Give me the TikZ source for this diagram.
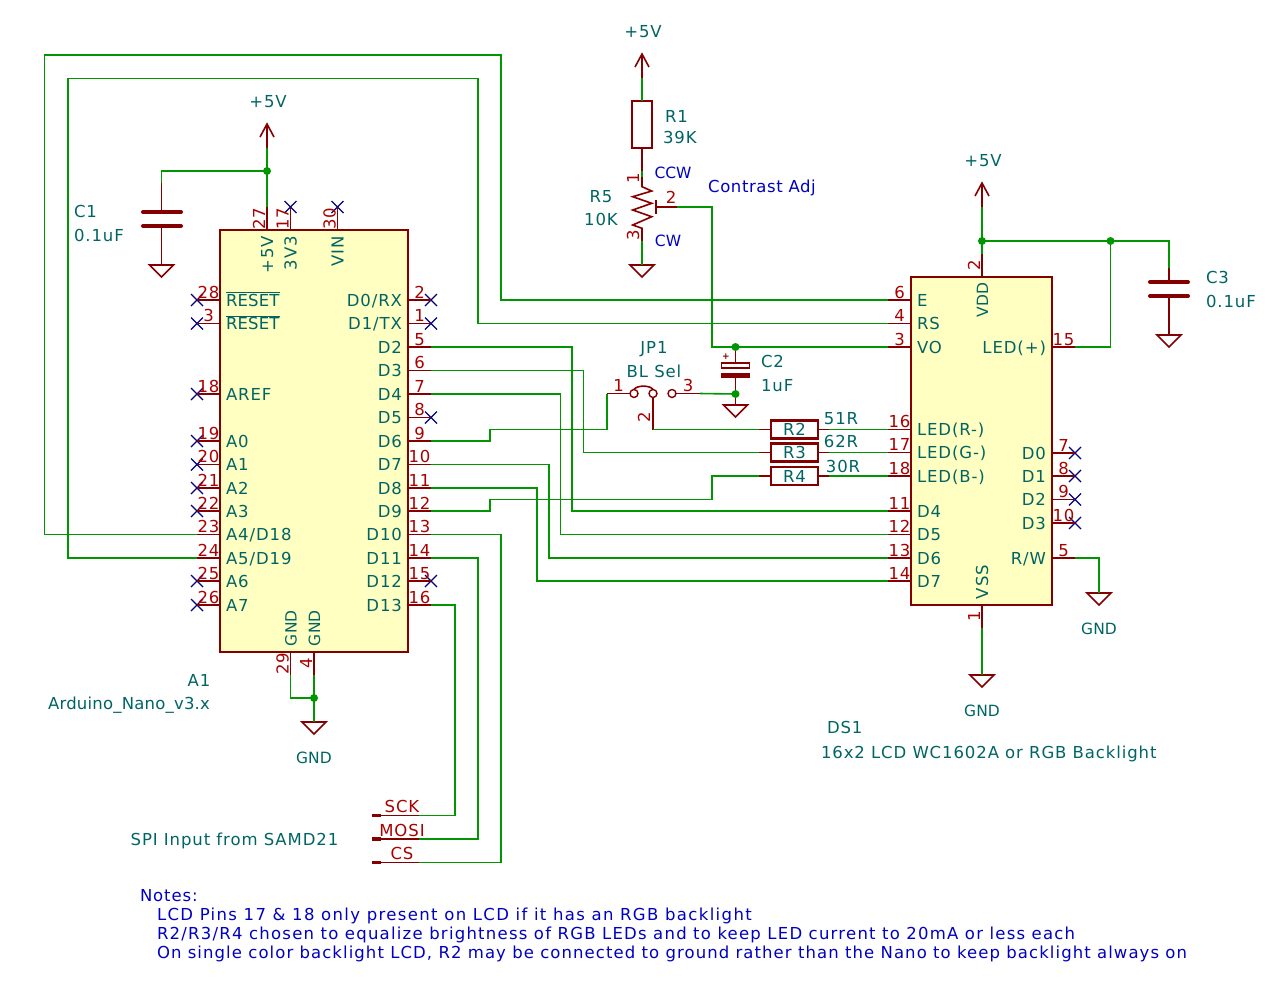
\documentclass[tikz,border=0pt]{standalone}
\usepackage{fontspec}
\setmainfont[LetterSpace=5.5]{DejaVu Sans}
\usetikzlibrary{shapes.misc}
\definecolor{wirec}{RGB}{0,150,0}
\definecolor{pinc}{RGB}{132,0,0}
\definecolor{numc}{RGB}{169,0,0}
\definecolor{textc}{RGB}{0,100,100}
\definecolor{ncc}{RGB}{0,0,132}
\definecolor{notec}{RGB}{0,0,194}
\definecolor{bodyc}{RGB}{255,255,194}

\begin{document}
\begin{tikzpicture}[x=1pt, y=-1pt,
    every node/.style={inner sep=0pt, outer sep=0pt, text height=12pt, text depth=0pt, font=\fontsize{16.5}{16.5}\selectfont},
    wire/.style={draw=wirec, line width=1.6pt},
    pinline/.style={draw=pinc, line width=1.6pt},
    sym/.style={draw=pinc, line width=1.6pt},
    plate/.style={draw=pinc, line width=4pt, line cap=round},
    body/.style={draw=pinc, fill=bodyc, line width=2.5pt, anchor=north west},
    res/.style={draw=pinc, line width=2.5pt, minimum width=47pt, minimum height=18pt, text=textc},
    pinnum/.style={text=numc, inner ysep=2pt},
    pinname/.style={text=textc, inner xsep=6pt},
    lbl/.style={text=textc},
    note/.style={text=notec, anchor=west},
    tight/.style={font=\fontsize{15.5}{15.5}\selectfont\addfontfeature{LetterSpace=0}},
    barred/.style={font=\fontsize{16.5}{16.5}\selectfont\addfontfeature{LetterSpace=1}},
    dot/.style={circle, fill=wirec, minimum size=8pt, text height=0pt},
    nc/.style={cross out, draw=ncc, line width=1.3pt, minimum size=12pt, text height=0pt}
    ]
    \useasboundingbox (0,0) rectangle (1280,986);

    % Nano and LCD bodies
    \node at (220,230) [body, minimum width=188pt, minimum height=422pt] (Nano) {};
    \node at (911,277) [body, minimum width=141pt, minimum height=328pt] (LCD) {};

    % Pin ends, Nano
    \coordinate (a5V) at (267,207);
    \coordinate (a4) at (314,675);
    \coordinate (a29) at (290.5,675);
    \coordinate (aA4) at (197,534.5);
    \coordinate (aA5) at (197,558);
    \coordinate (aD2) at (431,347);
    \coordinate (aD3) at (431,370.5);
    \coordinate (aD4) at (431,394);
    \coordinate (aD6) at (431,441);
    \coordinate (aD7) at (431,464.5);
    \coordinate (aD8) at (431,488);
    \coordinate (aD9) at (431,511);
    \coordinate (aD10) at (431,534.5);
    \coordinate (aD11) at (431,558);
    \coordinate (aD13) at (431,605);

    % Pin ends, LCD
    \coordinate (dE) at (888,300);
    \coordinate (dRS) at (888,323.5);
    \coordinate (dVO) at (888,347);
    \coordinate (dR) at (888,429.5);
    \coordinate (dG) at (888,452.5);
    \coordinate (dB) at (888,476);
    \coordinate (dD4) at (888,511);
    \coordinate (dD5) at (888,534.5);
    \coordinate (dD6) at (888,558);
    \coordinate (dD7) at (888,581);
    \coordinate (dLED) at (1075,347);
    \coordinate (dRW) at (1075,558);
    \coordinate (dVDD) at (982,254);
    \coordinate (dVSS) at (982,628);

    % Unconnected pins
    \node at (290.5,207) [nc] (x17) {};
    \node at (337.5,207) [nc] (x30) {};
    \node at (197,300) [nc] (x28) {};
    \node at (197,323.5) [nc] (x3) {};
    \node at (197,394) [nc] (xAREF) {};
    \node at (197,441) [nc] (xA0) {};
    \node at (197,464.5) [nc] (xA1) {};
    \node at (197,488) [nc] (xA2) {};
    \node at (197,511) [nc] (xA3) {};
    \node at (197,581) [nc] (xA6) {};
    \node at (197,605) [nc] (xA7) {};
    \node at (431,300) [nc] (xD0) {};
    \node at (431,323.5) [nc] (xD1) {};
    \node at (431,417.5) [nc] (xD5) {};
    \node at (431,581) [nc] (xD12) {};
    \node at (1075,453) [nc] (yD0) {};
    \node at (1075,476) [nc] (yD1) {};
    \node at (1075,499.5) [nc] (yD2) {};
    \node at (1075,523) [nc] (yD3) {};

    % Nano pins, top and bottom
    \draw[pinline] (a5V) -- (a5V |- Nano.north) node[midway, above, rotate=90, pinnum] (n27) {27} node[at end, rotate=90, anchor=east, pinname] (l27) {+5V};
    \draw[pinline] (x17.center) -- (x17.center |- Nano.north) node[midway, above, rotate=90, pinnum] (n17) {17} node[at end, rotate=90, anchor=east, pinname] (l17) {3V3};
    \draw[pinline] (x30.center) -- (x30.center |- Nano.north) node[midway, above, rotate=90, pinnum] (n30) {30} node[at end, rotate=90, anchor=east, pinname] (l30) {VIN};
    \draw[pinline] (a29) -- (a29 |- Nano.south) node[midway, above, rotate=90, pinnum] (n29) {29} node[at end, rotate=90, anchor=west, pinname, tight] (l29) {GND};
    \draw[pinline] (a4) -- (a4 |- Nano.south) node[midway, above, rotate=90, pinnum] (n4) {4} node[at end, rotate=90, anchor=west, pinname, tight] (l4) {GND};

    % Nano pins, left
    \draw[pinline] (x28.center) -- (x28.center -| Nano.west) node[midway, above, pinnum] (n28) {28} node[at end, right, pinname, barred] (l28) {$\overline{\hbox{RESET}}$};
    \draw[pinline] (x3.center) -- (x3.center -| Nano.west) node[midway, above, pinnum] (n3) {3} node[at end, right, pinname, barred] (l3) {$\overline{\hbox{RESET}}$};
    \draw[pinline] (xAREF.center) -- (xAREF.center -| Nano.west) node[midway, above, pinnum] (n18) {18} node[at end, right, pinname] (l18) {AREF};
    \draw[pinline] (xA0.center) -- (xA0.center -| Nano.west) node[midway, above, pinnum] (n19) {19} node[at end, right, pinname] (l19) {A0};
    \draw[pinline] (xA1.center) -- (xA1.center -| Nano.west) node[midway, above, pinnum] (n20) {20} node[at end, right, pinname] (l20) {A1};
    \draw[pinline] (xA2.center) -- (xA2.center -| Nano.west) node[midway, above, pinnum] (n21) {21} node[at end, right, pinname] (l21) {A2};
    \draw[pinline] (xA3.center) -- (xA3.center -| Nano.west) node[midway, above, pinnum] (n22) {22} node[at end, right, pinname] (l22) {A3};
    \draw[pinline] (aA4) -- (aA4 -| Nano.west) node[midway, above, pinnum] (n23) {23} node[at end, right, pinname] (l23) {A4/D18};
    \draw[pinline] (aA5) -- (aA5 -| Nano.west) node[midway, above, pinnum] (n24) {24} node[at end, right, pinname] (l24) {A5/D19};
    \draw[pinline] (xA6.center) -- (xA6.center -| Nano.west) node[midway, above, pinnum] (n25) {25} node[at end, right, pinname] (l25) {A6};
    \draw[pinline] (xA7.center) -- (xA7.center -| Nano.west) node[midway, above, pinnum] (n26) {26} node[at end, right, pinname] (l26) {A7};

    % Nano pins, right
    \draw[pinline] (xD0.center -| Nano.east) -- (xD0.center) node[midway, above, pinnum] (m2) {2} node[at start, left, pinname] (kD0) {D0/RX};
    \draw[pinline] (xD1.center -| Nano.east) -- (xD1.center) node[midway, above, pinnum] (m1) {1} node[at start, left, pinname] (kD1) {D1/TX};
    \draw[pinline] (aD2 -| Nano.east) -- (aD2) node[midway, above, pinnum] (m5) {5} node[at start, left, pinname] (kD2) {D2};
    \draw[pinline] (aD3 -| Nano.east) -- (aD3) node[midway, above, pinnum] (m6) {6} node[at start, left, pinname] (kD3) {D3};
    \draw[pinline] (aD4 -| Nano.east) -- (aD4) node[midway, above, pinnum] (m7) {7} node[at start, left, pinname] (kD4) {D4};
    \draw[pinline] (xD5.center -| Nano.east) -- (xD5.center) node[midway, above, pinnum] (m8) {8} node[at start, left, pinname] (kD5) {D5};
    \draw[pinline] (aD6 -| Nano.east) -- (aD6) node[midway, above, pinnum] (m9) {9} node[at start, left, pinname] (kD6) {D6};
    \draw[pinline] (aD7 -| Nano.east) -- (aD7) node[midway, above, pinnum] (m10) {10} node[at start, left, pinname] (kD7) {D7};
    \draw[pinline] (aD8 -| Nano.east) -- (aD8) node[midway, above, pinnum] (m11) {11} node[at start, left, pinname] (kD8) {D8};
    \draw[pinline] (aD9 -| Nano.east) -- (aD9) node[midway, above, pinnum] (m12) {12} node[at start, left, pinname] (kD9) {D9};
    \draw[pinline] (aD10 -| Nano.east) -- (aD10) node[midway, above, pinnum] (m13) {13} node[at start, left, pinname] (kD10) {D10};
    \draw[pinline] (aD11 -| Nano.east) -- (aD11) node[midway, above, pinnum] (m14) {14} node[at start, left, pinname] (kD11) {D11};
    \draw[pinline] (xD12.center -| Nano.east) -- (xD12.center) node[midway, above, pinnum] (m15) {15} node[at start, left, pinname] (kD12) {D12};
    \draw[pinline] (aD13 -| Nano.east) -- (aD13) node[midway, above, pinnum] (m16) {16} node[at start, left, pinname] (kD13) {D13};

    % LCD pins, left
    \draw[pinline] (dE) -- (dE -| LCD.west) node[midway, above, pinnum] (p6) {6} node[at end, right, pinname] (q6) {E};
    \draw[pinline] (dRS) -- (dRS -| LCD.west) node[midway, above, pinnum] (p4) {4} node[at end, right, pinname] (q4) {RS};
    \draw[pinline] (dVO) -- (dVO -| LCD.west) node[midway, above, pinnum] (p3) {3} node[at end, right, pinname] (q3) {VO};
    \draw[pinline] (dR) -- (dR -| LCD.west) node[midway, above, pinnum] (p16) {16} node[at end, right, pinname] (q16) {LED(R-)};
    \draw[pinline] (dG) -- (dG -| LCD.west) node[midway, above, pinnum] (p17) {17} node[at end, right, pinname] (q17) {LED(G-)};
    \draw[pinline] (dB) -- (dB -| LCD.west) node[midway, above, pinnum] (p18) {18} node[at end, right, pinname] (q18) {LED(B-)};
    \draw[pinline] (dD4) -- (dD4 -| LCD.west) node[midway, above, pinnum] (p11) {11} node[at end, right, pinname] (q11) {D4};
    \draw[pinline] (dD5) -- (dD5 -| LCD.west) node[midway, above, pinnum] (p12) {12} node[at end, right, pinname] (q12) {D5};
    \draw[pinline] (dD6) -- (dD6 -| LCD.west) node[midway, above, pinnum] (p13) {13} node[at end, right, pinname] (q13) {D6};
    \draw[pinline] (dD7) -- (dD7 -| LCD.west) node[midway, above, pinnum] (p14) {14} node[at end, right, pinname] (q14) {D7};

    % LCD pins, right, top and bottom
    \draw[pinline] (dLED -| LCD.east) -- (dLED) node[midway, above, pinnum] (p15) {15} node[at start, left, pinname] (q15) {LED(+)};
    \draw[pinline] (yD0.center -| LCD.east) -- (yD0.center) node[midway, above, pinnum] (p7) {7} node[at start, left, pinname] (q7) {D0};
    \draw[pinline] (yD1.center -| LCD.east) -- (yD1.center) node[midway, above, pinnum] (p8) {8} node[at start, left, pinname] (q8) {D1};
    \draw[pinline] (yD2.center -| LCD.east) -- (yD2.center) node[midway, above, pinnum] (p9) {9} node[at start, left, pinname] (q9) {D2};
    \draw[pinline] (yD3.center -| LCD.east) -- (yD3.center) node[midway, above, pinnum] (p10) {10} node[at start, left, pinname] (q10) {D3};
    \draw[pinline] (dRW -| LCD.east) -- (dRW) node[midway, above, pinnum] (p5) {5} node[at start, left, pinname] (q5) {R/W};
    \draw[pinline] (dVDD) -- (dVDD |- LCD.north) node[midway, above, rotate=90, pinnum] (p2) {2} node[at end, rotate=90, anchor=east, pinname, tight] (q2) {VDD};
    \draw[pinline] (dVSS) -- (dVSS |- LCD.south) node[midway, above, rotate=90, pinnum] (p1) {1} node[at end, rotate=90, anchor=west, pinname] (q1) {VSS};

    % Supply symbols
    \coordinate (vNano) at (267,148);
    \coordinate (vR1) at (642,78);
    \coordinate (vLCD) at (982,207);
    \draw[sym] (vNano) -- ++(0,-24) ++(-7,13) -- ++(7,-13) -- ++(7,13);
    \draw[sym] (vR1) -- ++(0,-24) ++(-7,13) -- ++(7,-13) -- ++(7,13);
    \draw[sym] (vLCD) -- ++(0,-24) ++(-7,13) -- ++(7,-13) -- ++(7,13);

    % Ground symbols
    \coordinate (gC1) at (161.5,265);
    \coordinate (gR5) at (642,265);
    \coordinate (gC2) at (735.5,405);
    \coordinate (gC3) at (1169,335);
    \coordinate (gRW) at (1099,593);
    \coordinate (gVSS) at (982,675);
    \coordinate (gNano) at (314,722);
    \draw[sym] (gC1) -- ++(-12,0) -- ++(12,12) -- ++(12,-12) -- cycle;
    \draw[sym] (gR5) -- ++(-12,0) -- ++(12,12) -- ++(12,-12) -- cycle;
    \draw[sym] (gC2) -- ++(-12,0) -- ++(12,12) -- ++(12,-12) -- cycle;
    \draw[sym] (gC3) -- ++(-12,0) -- ++(12,12) -- ++(12,-12) -- cycle;
    \draw[sym] (gRW) -- ++(-12,0) -- ++(12,12) -- ++(12,-12) -- cycle;
    \draw[sym] (gVSS) -- ++(-12,0) -- ++(12,12) -- ++(12,-12) -- cycle;
    \draw[sym] (gNano) -- ++(-12,0) -- ++(12,12) -- ++(12,-12) -- cycle;

    % C1 and C3
    \coordinate (c1top) at (161.5,183);
    \coordinate (c3top) at (1169,268);
    \draw[sym] (c1top) -- (161.5,212) (161.5,226) -- (gC1);
    \draw[plate] (143,212) -- (181,212);
    \draw[plate] (143,226) -- (181,226);
    \draw[sym] (c3top) -- (1169,282) (1169,296) -- (gC3);
    \draw[plate] (1150,282) -- (1188,282);
    \draw[plate] (1150,296) -- (1188,296);

    % R1 and R5
    \coordinate (r1low) at (642,171);
    \coordinate (r5low) at (642,241);
    \coordinate (r5w) at (677,207);
    \draw[sym] (642,78) -- (642,101) (642,148) -- (r1low);
    \node at (642,124.5) [draw=pinc, line width=2.5pt, minimum width=20pt, minimum height=47pt, text height=0pt] (R1) {};
    \draw[sym] (642,177) -- (642,186.7) -- (651.7,191) -- (632.7,196.7) -- (651.7,203.3) -- (632.7,210) -- (651.7,216.7) -- (632.7,225) -- (642,228.3) -- (r5low);
    \draw[sym] (656,200) -- (656,214) (656,207) -- (r5w);
    \node at (633,178) [rotate=90, pinnum] (r5p1) {1};
    \node at (633,235) [rotate=90, pinnum] (r5p3) {3};
    \node at (671,197) [pinnum] (r5p2) {2};

    % JP1
    \coordinate (jp1) at (607,393.5);
    \coordinate (jp2) at (653,429.5);
    \coordinate (jp3) at (700,393.5);
    \node at (634,393.5) [circle, draw=pinc, line width=1.4pt, minimum size=8pt, text height=0pt] (j1) {};
    \node at (653,393.5) [circle, draw=pinc, line width=1.4pt, minimum size=8pt, text height=0pt] (j2) {};
    \node at (672,393.5) [circle, draw=pinc, line width=1.4pt, minimum size=8pt, text height=0pt] (j3) {};
    \draw[sym] (jp1) -- (j1.west) node[midway, above, pinnum] (j1n) {1};
    \draw[sym] (j3.east) -- (jp3) node[midway, above, pinnum] (j3n) {3};
    \draw[sym] (j2.south) -- (jp2);
    \draw[sym] (j1.north) .. controls (637,385) and (650,385) .. (j2.north);
    \node at (644,417) [rotate=90, pinnum] (j2n) {2};

    % C2
    \coordinate (c2top) at (735.5,350);
    \coordinate (c2low) at (735.5,394);
    \draw[sym] (c2top) -- (735.5,363) (735.5,377) -- (gC2);
    \node at (735.5,365.5) [draw=pinc, line width=1.4pt, minimum width=28pt, minimum height=5pt, text height=0pt] (c2a) {};
    \node at (735.5,375) [fill=pinc, minimum width=29pt, minimum height=5pt, text height=0pt] (c2b) {};
    \node at (726,356) [text=pinc, font=\fontsize{9}{9}\selectfont\bfseries, text height=6pt] (c2s) {+};

    % Resistors
    \node at (794.5,429.5) [res] (R2) {R2};
    \node at (794.5,452.5) [res] (R3) {R3};
    \node at (794.5,476) [res] (R4) {R4};
    \coordinate (R2l) at (759,429.5);
    \coordinate (R3l) at (759,452.5);
    \coordinate (R4l) at (759,476);
    \coordinate (R2r) at (829,429.5);
    \coordinate (R3r) at (829,452.5);
    \coordinate (R4r) at (829,476);
    \draw[sym] (R2l) -- (R2.west) (R2.east) -- (R2r);
    \draw[sym] (R3l) -- (R3.west) (R3.east) -- (R3r);
    \draw[sym] (R4l) -- (R4.west) (R4.east) -- (R4r);

    % SPI connector
    \coordinate (sSCK) at (419,815.5);
    \coordinate (sMOSI) at (419,839);
    \coordinate (sCS) at (419,862.5);
    \draw[sym] (375,815.5) -- (sSCK) (375,839) -- (sMOSI) (375,862.5) -- (sCS);
    \draw[pinc, line width=3.5pt] (372,815.5) -- (381,815.5);
    \draw[pinc, line width=3.5pt] (372,839) -- (381,839);
    \draw[pinc, line width=3.5pt] (372,862.5) -- (381,862.5);
    \node at (402,806) [pinnum, inner ysep=0pt] (sck) {SCK};
    \node at (402,830) [pinnum, inner ysep=0pt] (mosi) {MOSI};
    \node at (402,853) [pinnum, inner ysep=0pt] (cs) {CS};

    % Wires
    \draw[wire] (aA4) -- (44.5,534.5) -- (44.5,55) -- (501,55) -- (501,300) -- (dE);
    \draw[wire] (aA5) -- (68,558) -- (68,78.5) -- (478,78.5) -- (478,323.5) -- (dRS);
    \draw[wire] (vNano) -- (a5V);
    \draw[wire] (267,171) -- (161.5,171) -- (c1top);
    \draw[wire] (a29) -- (290.5,698) -- (314,698);
    \draw[wire] (a4) -- (gNano);
    \draw[wire] (aD2) -- (572,347) -- (572,511) -- (dD4);
    \draw[wire] (aD3) -- (583.5,370.5) -- (583.5,452.5) -- (R3l);
    \draw[wire] (aD4) -- (560.5,394) -- (560.5,534.5) -- (dD5);
    \draw[wire] (aD6) -- (490,441) -- (490,429.5) -- (607,429.5) -- (jp1);
    \draw[wire] (aD7) -- (549,464.5) -- (549,558) -- (dD6);
    \draw[wire] (aD8) -- (537,488) -- (537,581) -- (dD7);
    \draw[wire] (aD9) -- (490,511) -- (490,499.5) -- (712,499.5) -- (712,476) -- (R4l);
    \draw[wire] (aD10) -- (501,534.5) -- (501,862.5) -- (sCS);
    \draw[wire] (aD11) -- (478,558) -- (478,839) -- (sMOSI);
    \draw[wire] (aD13) -- (455,605) -- (455,815.5) -- (sSCK);
    \draw[wire] (vR1) -- (642,101);
    \draw[wire] (r1low) -- (642,177);
    \draw[wire] (r5low) -- (gR5);
    \draw[wire] (r5w) -- (712,207) -- (712,347) -- (dVO);
    \draw[wire] (735.5,347) -- (c2top);
    \draw[wire] (jp3) -- (c2low);
    \draw[wire] (jp2) -- (R2l);
    \draw[wire] (R2r) -- (dR);
    \draw[wire] (R3r) -- (dG);
    \draw[wire] (R4r) -- (dB);
    \draw[wire] (vLCD) -- (dVDD);
    \draw[wire] (982,241) -- (1169,241) -- (c3top);
    \draw[wire] (1110.5,241) -- (1110.5,347) -- (dLED);
    \draw[wire] (dRW) -- (1099,558) -- (gRW);
    \draw[wire] (dVSS) -- (gVSS);

    % Junctions
    \node at (267,171) [dot] (jn1) {};
    \node at (314,698) [dot] (jn2) {};
    \node at (735.5,347) [dot] (jn3) {};
    \node at (735.5,394) [dot] (jn4) {};
    \node at (982,241) [dot] (jn5) {};
    \node at (1110.5,241) [dot] (jn6) {};

    % References and values
    \node at (268,101) [lbl] (v1) {+5V};
    \node at (643,31) [lbl] (v2) {+5V};
    \node at (983,160) [lbl] (v3) {+5V};
    \node at (314,757) [lbl, tight] (g1) {GND};
    \node at (982,710) [lbl, tight] (g2) {GND};
    \node at (1099,628) [lbl, tight] (g3) {GND};
    \node at (74,211) [lbl, anchor=west] (C1) {C1};
    \node at (74,235) [lbl, anchor=west] (C1v) {0.1uF};
    \node at (1206,277) [lbl, anchor=west] (C3) {C3};
    \node at (1206,301) [lbl, anchor=west] (C3v) {0.1uF};
    \node at (761,361) [lbl, anchor=west] (C2) {C2};
    \node at (761,385) [lbl, anchor=west] (C2v) {1uF};
    \node at (665,116) [lbl, anchor=west] (R1r) {R1};
    \node at (663,137) [lbl, anchor=west] (R1v) {39K};
    \node at (601,196) [lbl] (R5r) {R5};
    \node at (601,219) [lbl] (R5v) {10K};
    \node at (654,347) [lbl] (JP1) {JP1};
    \node at (654,371) [lbl] (JP1v) {BL Sel};
    \node at (841,418) [lbl] (R2v) {51R};
    \node at (841,441) [lbl] (R3v) {62R};
    \node at (843,466) [lbl] (R4v) {30R};
    \node at (199,680) [lbl] (A1) {A1};
    \node at (129,703.5) [lbl] (A1v) {\addfontfeature{LetterSpace=1.2}Arduino\_Nano\_v3.x};
    \node at (827,727) [lbl, anchor=west] (DS1) {DS1};
    \node at (821,752.5) [lbl, anchor=west] (DS1v) {16x2 LCD WC1602A or RGB Backlight};
    \node at (234.5,839) [lbl] (spi) {SPI Input from SAMD21};

    % Notes
    \node at (762,186) [note, anchor=center] (adj) {\addfontfeature{LetterSpace=3.5}Contrast Adj};
    \node at (673,172) [note, anchor=center, tight] (ccw) {CCW};
    \node at (668,240) [note, anchor=center, tight] (cw) {CW};
    \node at (140,895) [note] (n0) {Notes:};
    \node at (157,914) [note] (n1) {\addfontfeature{LetterSpace=8.3}LCD Pins 17 \& 18 only present on LCD if it has an RGB backlight};
    \node at (157,933) [note] (n2) {\addfontfeature{LetterSpace=7.5}R2/R3/R4 chosen to equalize brightness of RGB LEDs and to keep LED current to 20mA or less each};
    \node at (157,952) [note] (n3) {\addfontfeature{LetterSpace=6.5}On single color backlight LCD, R2 may be connected to ground rather than the Nano to keep backlight always on};
\end{tikzpicture}
\end{document}
